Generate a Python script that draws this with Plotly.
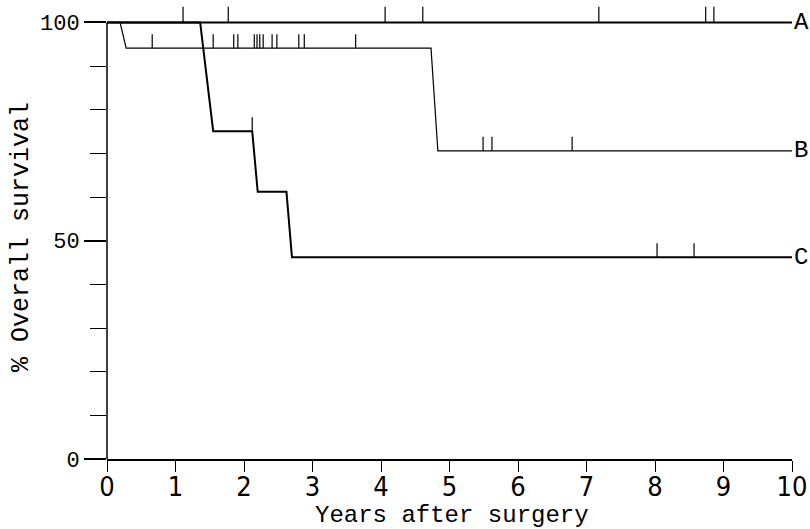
import plotly.graph_objects as go

# ---- data ----
# Each drop is drawn as a short slanted segment: (start time, end time, new level)
a_times = [0, 10]
a_surv = [100, 100]
a_censor = [1.11, 1.77, 4.06, 4.61, 7.18, 8.74, 8.86]

b_times = [0, 0.19, 0.28, 4.73, 4.83, 10]
b_surv = [100, 100, 94.1, 94.1, 70.6, 70.6]
b_censor_t = [0.66, 1.55, 1.85, 1.91, 2.15, 2.19, 2.23, 2.28, 2.41, 2.48, 2.80, 2.88, 3.63,
              5.49, 5.62, 6.79]
b_censor_s = [94.1] * 13 + [70.6] * 3

c_times = [0, 1.36, 1.55, 2.12, 2.20, 2.62, 2.70, 10]
c_surv = [100, 100, 75.1, 75.1, 61.2, 61.2, 46.2, 46.2]
c_censor_t = [2.12, 8.03, 8.57]
c_censor_s = [75.1, 46.2, 46.2]

group_labels = ["A", "B", "C"]
group_levels = [100, 70.6, 46.2]

x_ticks = list(range(0, 11))
y_major = [0, 50, 100]

MONO = "Liberation Mono, Courier New, monospace"
NARROW = "Liberation Sans Narrow, Arial Narrow, DejaVu Sans Condensed, Liberation Sans, sans-serif"

fig = go.Figure()

def curve(t, s, w):
    fig.add_trace(go.Scatter(x=t, y=s, mode="lines", line=dict(color="black", width=w),
                             hoverinfo="skip", showlegend=False, cliponaxis=False))

def censor(t, s, h):
    fig.add_trace(go.Scatter(x=t, y=s, mode="markers",
                             marker=dict(size=1, color="rgba(0,0,0,0)"),
                             error_y=dict(type="constant", symmetric=False, value=h,
                                          valueminus=0, width=0, thickness=1.2, color="black"),
                             hoverinfo="skip", showlegend=False, cliponaxis=False))

curve(a_times, a_surv, 2)
curve(b_times, b_surv, 1.2)
curve(c_times, c_surv, 2)
censor(a_censor, [100] * len(a_censor), 3.6)
censor(b_censor_t, b_censor_s, 3.2)
censor(c_censor_t, c_censor_s, 3.2)

for lab, lev in zip(group_labels, group_levels):
    fig.add_annotation(x=10, y=lev, xref="x", yref="y", text=lab, showarrow=False,
                       xanchor="left", yanchor="middle", xshift=0,
                       font=dict(family=MONO, size=24, color="black"))

# axis titles
fig.add_annotation(x=0, y=0.5, xref="paper", yref="y domain", text="% Overall survival",
                   textangle=-90, showarrow=False, xanchor="center", yanchor="middle",
                   xshift=-86, yshift=-5, font=dict(family=MONO, size=25, color="black"))
fig.add_annotation(x=0.503, y=0, xref="paper", yref="paper", text="Years after surgery",
                   showarrow=False, xanchor="center", yanchor="middle", yshift=-56,
                   font=dict(family=MONO, size=24, color="black"))

# y axis line from 0 to 100 only
fig.add_shape(type="line", xref="paper", yref="y", x0=0, x1=0, y0=0, y1=100,
              line=dict(color="black", width=1.5))

fig.update_layout(
    width=810, height=529,
    margin=dict(l=107, r=18, t=4.5, b=70, autoexpand=False),
    paper_bgcolor="white", plot_bgcolor="white",
    showlegend=False,
    xaxis=dict(range=[0, 10], tickvals=x_ticks, ticktext=[str(v) for v in x_ticks],
               ticks="outside", ticklen=11, tickwidth=1, tickcolor="black",
               ticklabelstandoff=-8,
               showline=True, linecolor="black", linewidth=2,
               showgrid=False, zeroline=False, automargin=False,
               tickfont=dict(family=NARROW, size=27, color="black")),
    yaxis=dict(range=[0, 104], tickvals=y_major, ticktext=[str(v) for v in y_major],
               ticks="outside", ticklen=22, tickwidth=1.5, tickcolor="black",
               minor=dict(tickvals=[10, 20, 30, 40, 60, 70, 80, 90], ticks="outside",
                          ticklen=16, tickwidth=1.2, tickcolor="black"),
               showline=False, showgrid=False, zeroline=False, automargin=False,
               tickfont=dict(family=MONO, size=22, color="black")),
)

fig.write_html("out.html", config={"displayModeBar": False},
               post_script="document.body.style.margin='0';document.body.style.overflow='hidden';")
